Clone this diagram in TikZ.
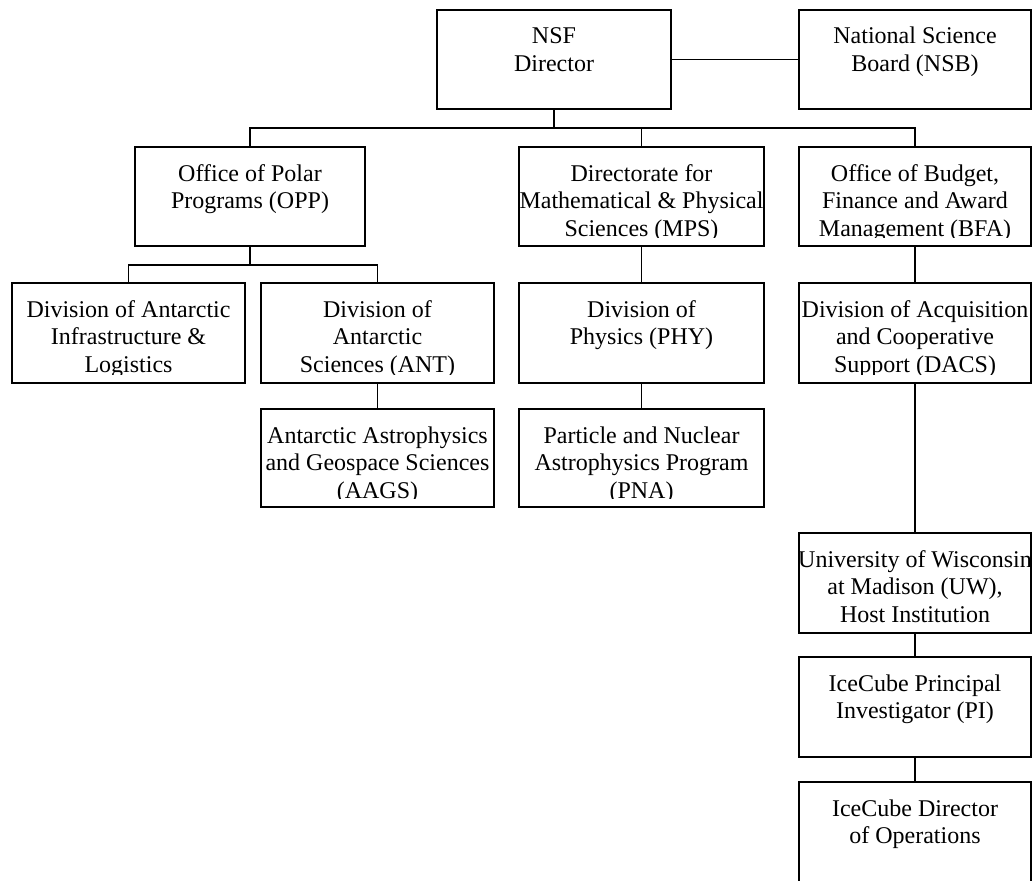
\documentclass[tikz,border=0pt]{standalone}
\usepackage{fontspec}
\setmainfont{Liberation Serif}
\begin{document}
\begin{tikzpicture}[x=1pt,y=-1pt,
  box/.style={draw=black, line width=1.8pt, inner sep=0pt, rectangle},
  boxtext/.style={path picture={
     \clip (path picture bounding box.north west) rectangle ([yshift=9pt]path picture bounding box.south east);
     \node[anchor=base, inner sep=0pt, font=\fontsize{24}{27.5}\selectfont] (txt) at ([yshift=-34pt]path picture bounding box.north) {\begin{tabular}[t]{@{}c@{}}#1\end{tabular}};}},
  link/.style={line width=1.8pt}
]
\path[fill=white] (0,0) rectangle (1032,880);
\useasboundingbox (0,0) rectangle (1032,880);

% top level
\node[box, minimum width=234pt, minimum height=99pt, boxtext={NSF\\Director}] (NSF) at (554,59.5) {};
\node[box, minimum width=232pt, minimum height=99pt, boxtext={National Science\\Board (NSB)}] (NSB) at (915,59.5) {};

% second level
\node[box, minimum width=230pt, minimum height=99pt, boxtext={Office of Polar\\Programs (OPP)}] (OPP) at (250,196.5) {};
\node[box, minimum width=245pt, minimum height=99pt, boxtext={Directorate for\\Mathematical \& Physical\\Sciences (MPS)}] (MPS) at (641.5,196.5) {};
\node[box, minimum width=232pt, minimum height=99pt, boxtext={Office of Budget,\\Finance and Award\\Management (BFA)}] (BFA) at (915,196.5) {};

% third level
\node[box, minimum width=233pt, minimum height=100pt, boxtext={Division of Antarctic\\Infrastructure \&\\Logistics}] (Infra) at (128.5,333) {};
\node[box, minimum width=233pt, minimum height=100pt, boxtext={Division of\\Antarctic\\Sciences (ANT)}] (ANT) at (377.5,333) {};
\node[box, minimum width=245pt, minimum height=100pt, boxtext={Division of\\Physics (PHY)}] (PHY) at (641.5,333) {};
\node[box, minimum width=232pt, minimum height=100pt, boxtext={Division of Acquisition\\and Cooperative\\Support (DACS)}] (DACS) at (915,333) {};

% fourth level
\node[box, minimum width=233pt, minimum height=98pt, boxtext={Antarctic Astrophysics\\and Geospace Sciences\\(AAGS)}] (AAGS) at (377.5,458) {};
\node[box, minimum width=245pt, minimum height=98pt, boxtext={Particle and Nuclear\\Astrophysics Program\\(PNA)}] (PNA) at (641.5,458) {};

% right column
\node[box, minimum width=232pt, minimum height=100pt, boxtext={University of Wisconsin\\at Madison (UW),\\Host Institution}] (UW) at (915,583) {};
\node[box, minimum width=232pt, minimum height=100pt, boxtext={IceCube Principal\\Investigator (PI)}] (PI) at (915,707) {};
\node[box, minimum width=232pt, minimum height=100pt, boxtext={IceCube Director\\of Operations}] (DirOps) at (915,832) {};

% connectors
\coordinate (bus) at (0,128);
\coordinate (subbus) at (0,265);
\draw[link] (NSF.east) -- (NSB.west);
\draw[link] (NSF.south) -- (NSF.south |- bus);
\draw[link] (OPP.north) |- (BFA.north |- bus) -- (BFA.north);
\draw[link] (MPS.north) -- (MPS.north |- bus);
\draw[link] (OPP.south) -- (OPP.south |- subbus);
\draw[link] (Infra.north) |- (ANT.north |- subbus) -- (ANT.north);
\draw[link] (ANT.south) -- (AAGS.north);
\draw[link] (MPS.south) -- (PHY.north);
\draw[link] (PHY.south) -- (PNA.north);
\draw[link] (BFA.south) -- (DACS.north);
\draw[link] (DACS.south) -- (UW.north);
\draw[link] (UW.south) -- (PI.north);
\draw[link] (PI.south) -- (DirOps.north);
\end{tikzpicture}
\end{document}
